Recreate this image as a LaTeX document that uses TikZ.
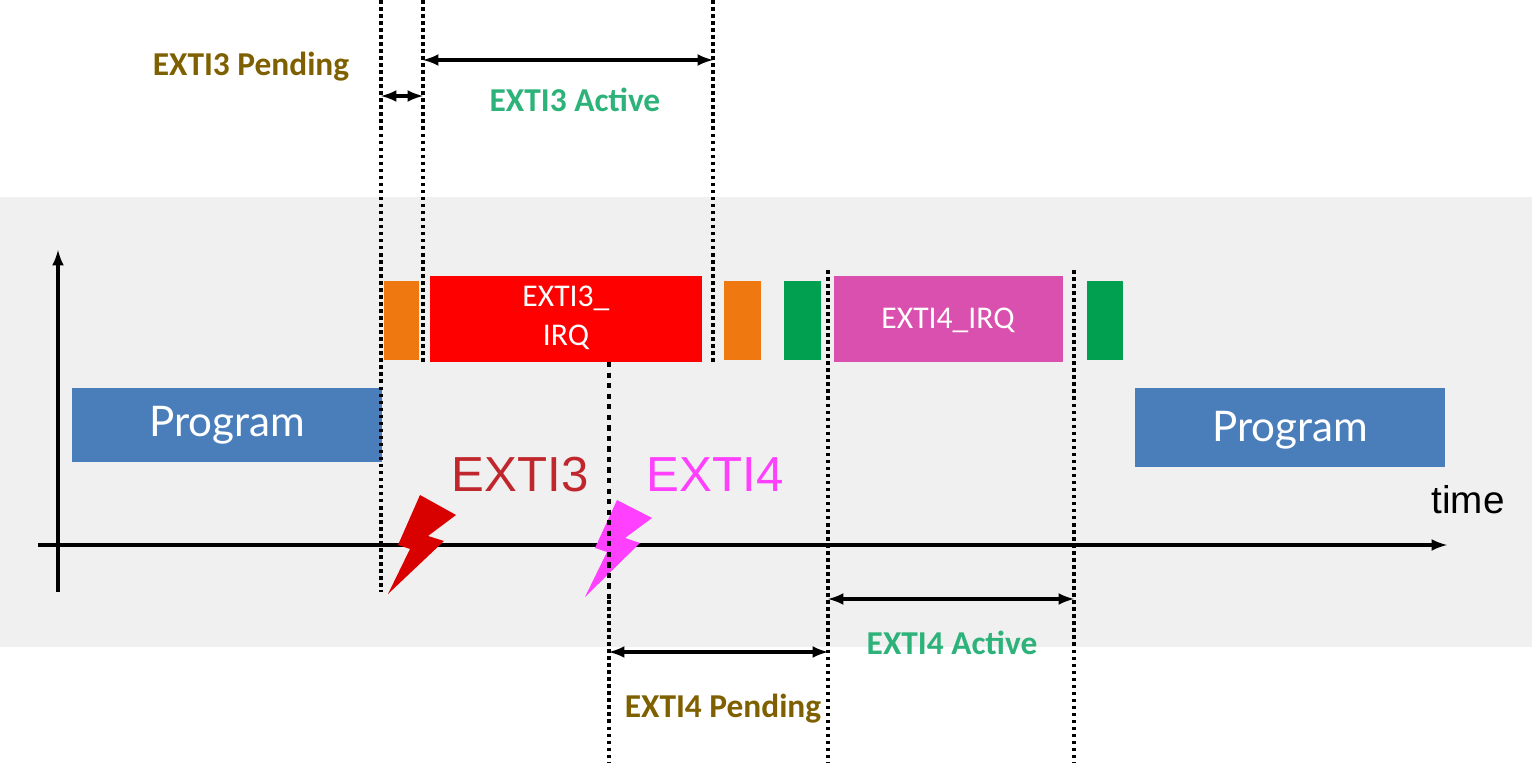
\documentclass[tikz,border=0pt]{standalone}
\usepackage{fontspec}
\setmainfont{Carlito}
\newfontfamily\progfont{Lato}
\newfontfamily\arialfont{Liberation Sans}
\definecolor{bandgray}{HTML}{F0F0F0}
\definecolor{progblue}{HTML}{4A7EBB}
\definecolor{isrorange}{HTML}{F07810}
\definecolor{isrgreen}{HTML}{00A050}
\definecolor{irqmag}{HTML}{DA50AE}
\definecolor{pendbrown}{HTML}{7F6000}
\definecolor{actgreen}{HTML}{2DB37A}
\definecolor{extred}{HTML}{C0272D}
\definecolor{extmag}{HTML}{FF40FF}
\tikzset{
  blk/.style={draw=none,inner sep=0pt,anchor=north west},
  lbl/.style={font=\fontsize{19}{22}\selectfont\bfseries},
  vdot/.style={line width=2pt,dotted},
  span/.style={line width=2pt,<->,>=latex},
}
\begin{document}
\begin{tikzpicture}[x=0.02cm,y=-0.02cm]
\useasboundingbox (0,0) rectangle (1532,763);
\fill[bandgray] (0,197) rectangle (1532,647);
% axes
\draw[line width=2pt,->,>=latex] (58,592) -- (58,250);
\draw[line width=2pt,->,>=latex] (38,545) -- (1447,545);
\node[font=\arialfont\fontsize{22}{26}\selectfont] (time) at (1468,500) {time};
% blocks
\fill[progblue] (72,388) rectangle (382,462);
\node[text=white,font=\progfont\fontsize{24}{28}\selectfont] (prog1) at (227,425) {Program};
\fill[progblue] (1135,388) rectangle (1445,467);
\node[text=white,font=\progfont\fontsize{24}{28}\selectfont] (prog2) at (1290,430) {Program};
\fill[isrorange] (384,281) rectangle (419,360);
\fill[red] (430,276) rectangle (702,362);
\node[text=white,align=center,font=\fontsize{18}{22}\selectfont] (irq3) at (566,318) {EXTI3\_\\IRQ};
\fill[isrorange] (724,281) rectangle (761,360);
\fill[isrgreen] (784,281) rectangle (821,360);
\fill[irqmag] (834,276) rectangle (1063,362);
\node[text=white,font=\fontsize{18}{22}\selectfont] (irq4) at (948,320) {EXTI4\_IRQ};
\fill[isrgreen] (1087,281) rectangle (1123,360);
% events
\node[text=extred,font=\arialfont\fontsize{28}{32}\selectfont] (e3) at (520,475) {EXTI3};
\node[text=extmag,font=\arialfont\fontsize{28}{32}\selectfont] (e4) at (715,475) {EXTI4};
\fill[red!85!black] (420,495) -- (456,515) -- (428,536) -- (444,541) -- (388,594) -- (410,549) -- (398,545) -- cycle;
\fill[extmag] (617,500) -- (652,518) -- (625,538) -- (640,543) -- (585,597) -- (607,552) -- (595,548) -- cycle;
% timing marks
\coordinate (a1) at (381,0);   \coordinate (a2) at (381,592);
\coordinate (b1) at (423,0);   \coordinate (b2) at (423,362);
\coordinate (c1) at (713,0);   \coordinate (c2) at (713,362);
\coordinate (d1) at (609,362); \coordinate (d2) at (609,600); \coordinate (d3) at (609,763);
\coordinate (f1) at (828,270); \coordinate (f2) at (828,763);
\coordinate (g1) at (1074,270);\coordinate (g2) at (1074,763);
\draw[vdot] (a1) -- (a2);
\draw[vdot] (b1) -- (b2);
\draw[vdot] (c1) -- (c2);
\draw[line width=2pt,dashed] (d1) -- (d2);
\draw[vdot] (d2) -- (d3);
\draw[vdot] (f1) -- (f2);
\draw[vdot] (g1) -- (g2);
\draw[span] (381,96) -- (423,96);
\draw[span] (423,60) -- (713,60);
\draw[span] (609,652) -- (828,652);
\draw[span] (828,599) -- (1074,599);
\node[lbl,text=pendbrown] (p3) at (251,67) {EXTI3 Pending};
\node[lbl,text=actgreen] (a3) at (575,100) {EXTI3 Active};
\node[lbl,text=pendbrown] (p4) at (723,709) {EXTI4 Pending};
\node[lbl,text=actgreen] (a4) at (952,643) {EXTI4 Active};
\end{tikzpicture}
\end{document}
